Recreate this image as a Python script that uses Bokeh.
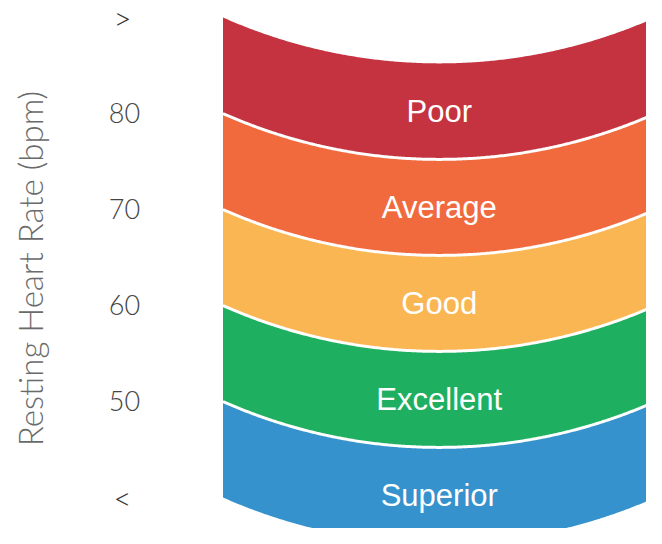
import numpy as np
from bokeh.plotting import figure
from bokeh.models import Range1d
from bokeh.core.properties import value
from bokeh.embed import file_html
from bokeh.resources import INLINE

# ---- data ----
categories = ["Superior", "Excellent", "Good", "Average", "Poor"]
lower_bpm = [40, 50, 60, 70, 80]
upper_bpm = [50, 60, 70, 80, 90]
colors = ["#3592CD", "#1FAF61", "#FAB652", "#F16A3E", "#C4333F"]
tick_values = [40, 50, 60, 70, 80, 90]
tick_labels = ["<", "50", "60", "70", "80", ">"]
axis_title = "Resting Heart Rate (bpm)"

# ---- layout (pixels) ----
W, H = 646, 528
PX_PER_BPM = 9.6
X0, X1 = 222.5, 655.0   # horizontal extent of the bands
R = 532.5               # radius of the curved band edges
TOP_BPM = max(upper_bpm)
TOP_PX = 17.0           # y of the top edge at the sides

y_end = TOP_BPM + TOP_PX / PX_PER_BPM
y_start = y_end - H / PX_PER_BPM

p = figure(width=W, height=H, x_range=Range1d(0, W), y_range=Range1d(y_start, y_end),
           output_backend="svg", toolbar_location=None, min_border=0)
p.axis.visible = False
p.grid.visible = False
p.outline_line_color = None
p.background_fill_color = "white"

cx = (X0 + X1) / 2
half = (X1 - X0) / 2
xs_arc = np.linspace(X0, X1, 241)
sag = np.sqrt(R ** 2 - (xs_arc - cx) ** 2) - np.sqrt(R ** 2 - half ** 2)
sag_bpm = sag / PX_PER_BPM
sag_center = (R - np.sqrt(R ** 2 - half ** 2)) / PX_PER_BPM

band_xs, band_ys = [], []
for lo, hi in zip(lower_bpm, upper_bpm):
    top = hi - sag_bpm
    bot = lo - sag_bpm
    band_xs.append(np.concatenate([xs_arc, xs_arc[::-1]]))
    band_ys.append(np.concatenate([top, bot[::-1]]))

p.patches(band_xs, band_ys, fill_color=colors, line_color=None)

# white separators between bands
sep_vals = [v for v in upper_bpm if v < TOP_BPM]
p.multi_line([xs_arc] * len(sep_vals), [v - sag_bpm for v in sep_vals],
             line_color="white", line_width=3)

# band labels
mids = [(lo + hi) / 2 - sag_center for lo, hi in zip(lower_bpm, upper_bpm)]
p.text(x=[cx] * len(categories), y=mids, text=categories, text_color="white",
       text_font=value("Liberation Sans"), text_font_size="31px",
       text_align="center", text_baseline="middle")

# tick labels: numbers and the open-ended chevrons
num_vals = [v for v, t in zip(tick_values, tick_labels) if t.isdigit()]
num_text = [t for t in tick_labels if t.isdigit()]
chev_vals = [v for v, t in zip(tick_values, tick_labels) if not t.isdigit()]
chev_text = [t for t in tick_labels if not t.isdigit()]
p.text(x=[124] * len(num_vals), y=num_vals, text=num_text, text_color="#444444",
       text_font=value("Lato Light"), text_font_size="27px",
       text_align="center", text_baseline="middle", y_offset=-1)
p.text(x=[122] * len(chev_vals), y=chev_vals, text=chev_text, text_color="#333333",
       text_font=value("Lato Light"), text_font_size="31px",
       text_align="center", text_baseline="middle", y_offset=0)

# axis title
title_y = (min(tick_values) + max(tick_values)) / 2
p.text(x=[29], y=[title_y], text=[axis_title], text_color="#6a6a6a",
       text_font=value("Lato Light"), text_font_size="33px", angle=np.pi / 2,
       text_align="center", text_baseline="middle", y_offset=11)

open("out.html", "w").write(file_html(p, INLINE))
